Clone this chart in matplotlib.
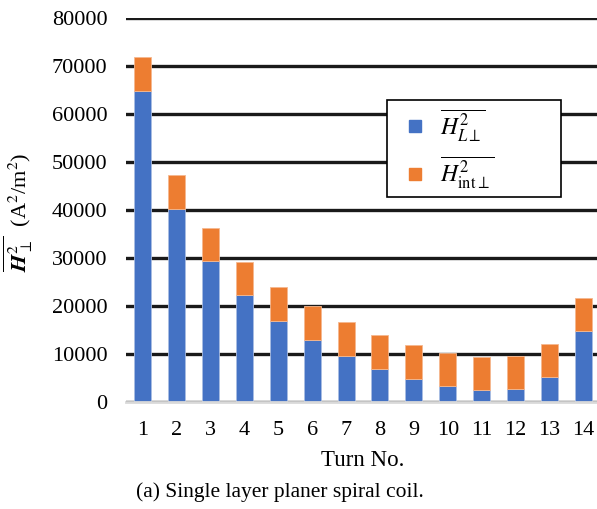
import numpy as np
import matplotlib
matplotlib.use('Agg')
import matplotlib.pyplot as plt
from matplotlib.lines import Line2D

plt.rcParams['font.family'] = ['Liberation Serif', 'DejaVu Serif']
plt.rcParams['mathtext.fontset'] = 'stix'

# dati
turns = [str(i) for i in range(1, 15)]
h_L = [64800, 40300, 29300, 22230, 16940, 12850, 9650, 6940, 4860, 3400, 2570, 2780, 5140, 14850]
h_tot = [71800, 47300, 36300, 29170, 23960, 19940, 16700, 13960, 11875, 10280, 9440, 9650, 12080, 21730]
h_int = [t - l for t, l in zip(h_tot, h_L)]

blu = '#4472C4'
arancio = '#ED7D31'

W, H = 597, 509
fig = plt.figure(figsize=(W / 100, H / 100), dpi=100)
ax = fig.add_axes([125.5 / W, (H - 402) / H, 475 / W, 384 / H])

x = np.arange(len(turns))
ax.bar(x, h_L, width=0.5, color=blu, edgecolor='#a9bde3', linewidth=0.6, zorder=3)
ax.bar(x, h_int, width=0.5, bottom=h_L, color=arancio, edgecolor='#f5b88f', linewidth=0.6, zorder=3)

ax.set_xlim(-0.5, 13.5)
ax.set_ylim(0, 80000)
ax.set_yticks(np.arange(0, 80001, 10000))
ax.set_xticks(x)
ax.set_xticklabels(turns)
ax.yaxis.grid(True, color='#1a1a1a', linewidth=2.4, zorder=0)
for s in ['top', 'right', 'left']:
    ax.spines[s].set_visible(False)
ax.spines['bottom'].set_color('#d9d9d9')
ax.spines['bottom'].set_linewidth(2)
ax.spines['bottom'].set_zorder(4)
ax.tick_params(axis='both', length=0, labelsize=16)
ax.tick_params(axis='y', pad=13)
ax.tick_params(axis='x', pad=14)

fig.text(363 / W, 1 - 461 / H, 'Turn No.', ha='center', va='center', fontsize=16.5)
fig.text(18 / W, 1 - 212 / H, r'$\overline{\mathbfit{H}_{\perp}^{2}}$  (A$^2$/m$^2$)',
         rotation=90, ha='center', va='center', fontsize=16)
fig.text(136 / W, 1 - 492 / H, '(a) Single layer planer spiral coil.', ha='left', va='center', fontsize=15.5)

handles = [Line2D([], [], marker='s', linestyle='none', markersize=8.6, color=blu),
           Line2D([], [], marker='s', linestyle='none', markersize=8.6, color=arancio)]
labels = [r'$\overline{H_{L\perp}^{2}}$', r'$\overline{H_{\mathrm{int}\perp}^{2}}$']
leg = fig.legend(handles, labels, loc='upper left',
                 bbox_to_anchor=(387 / W, 1 - 197 / H, 174 / W, 97 / H), mode='expand',
                 fontsize=17, frameon=True, fancybox=False, framealpha=1, edgecolor='black',
                 handlelength=1.78, borderpad=0.3, labelspacing=0.5,
                 handletextpad=0.15, borderaxespad=0)
leg.get_frame().set_linewidth(1.2)

fig.savefig('out.png', dpi=100)
